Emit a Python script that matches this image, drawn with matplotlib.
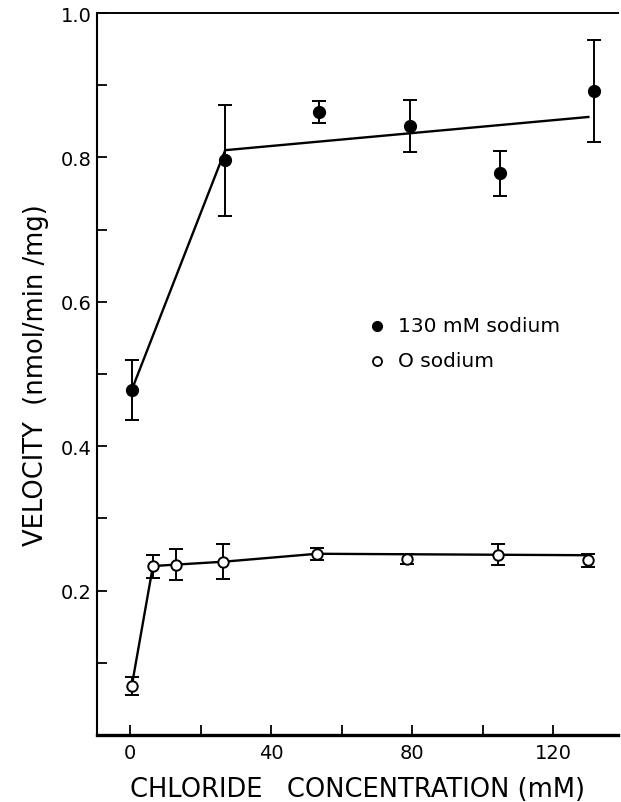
import matplotlib
matplotlib.use("Agg")
import matplotlib.pyplot as plt
from matplotlib.ticker import MultipleLocator, FixedLocator

# ---- data ----
na_x = [0.5, 27, 53.5, 79.5, 105, 131.5]
na_y = [0.478, 0.796, 0.863, 0.843, 0.778, 0.892]
na_err = [0.042, 0.077, 0.015, 0.036, 0.031, 0.071]
na_fit_x = [0.5, 27, 130]
na_fit_y = [0.478, 0.810, 0.856]

zero_x = [0.5, 6.5, 13, 26.5, 53, 78.5, 104.5, 130]
zero_y = [0.068, 0.234, 0.236, 0.240, 0.251, 0.244, 0.250, 0.242]
zero_err = [0.012, 0.016, 0.021, 0.024, 0.008, 0.007, 0.014, 0.009]
zero_fit_x = [0.5, 6.5, 13, 26.5, 53, 130]
zero_fit_y = [0.068, 0.234, 0.236, 0.240, 0.251, 0.249]

x_ticks = [0, 40, 80, 120]
y_ticks = [0.2, 0.4, 0.6, 0.8, 1.0]
legend_labels = ["130 mM sodium", "O sodium"]

FONT = "DejaVu Sans"
plt.rcParams['font.family'] = [FONT]

fig = plt.figure(figsize=(6.21, 8.03), dpi=100)
ax = fig.add_axes([97/621, 1-736/803, (618-97)/621, (736-14)/803])

lw = 1.7
ax.plot(na_fit_x, na_fit_y, color='black', lw=lw, zorder=2)
ax.plot(zero_fit_x, zero_fit_y, color='black', lw=lw, zorder=2)

ax.errorbar(na_x, na_y, yerr=na_err, fmt='o', color='black', ms=8.5,
            mfc='black', mec='black', ecolor='black', elinewidth=1.4,
            capsize=5, capthick=1.4, zorder=3)
ax.errorbar(zero_x, zero_y, yerr=zero_err, fmt='o', color='black', ms=7.5,
            mfc='white', mec='black', mew=1.4, ecolor='black', elinewidth=1.4,
            capsize=5, capthick=1.4, zorder=3)

ax.set_xlim(-9.36, 138.4)
ax.set_ylim(0, 1.0)

ax.spines['right'].set_visible(False)
ax.spines['top'].set_linewidth(1.4)
ax.spines['left'].set_linewidth(1.5)
ax.spines['bottom'].set_linewidth(2.4)

ax.xaxis.set_major_locator(FixedLocator(x_ticks))
ax.xaxis.set_minor_locator(MultipleLocator(20))
ax.yaxis.set_major_locator(FixedLocator(y_ticks))
ax.yaxis.set_minor_locator(MultipleLocator(0.1))
ax.set_xticklabels([str(v) for v in x_ticks])
ax.set_yticklabels([f"{v:.1f}" for v in y_ticks])

ax.tick_params(which='both', direction='in', length=7.5, width=1.3,
               top=False, right=False)
ax.tick_params(axis='x', which='major', labelsize=14, pad=6)
ax.tick_params(axis='y', which='major', labelsize=14, pad=4)

ax.set_xlabel("CHLORIDE   CONCENTRATION (mM)", fontsize=18.5, labelpad=10)
ax.set_ylabel("VELOCITY  (nmol/min /mg)", fontsize=18.5, labelpad=8)

# legend (drawn manually in axes fraction coordinates)
lx = (376.7-97)/(618-97)
ly1 = (736-327)/(736-14)
ly2 = (736-362)/(736-14)
ax.plot([lx], [ly1], 'o', transform=ax.transAxes, ms=7, color='black')
ax.plot([lx], [ly2], 'o', transform=ax.transAxes, ms=6.5, mfc='white',
        mec='black', mew=1.3)
tx = (398-97)/(618-97)
ax.text(tx, ly1, legend_labels[0], transform=ax.transAxes, fontsize=14.5,
        va='center', ha='left')
ax.text(tx, ly2, legend_labels[1], transform=ax.transAxes, fontsize=14.5,
        va='center', ha='left')

fig.savefig("out.png", dpi=100)
